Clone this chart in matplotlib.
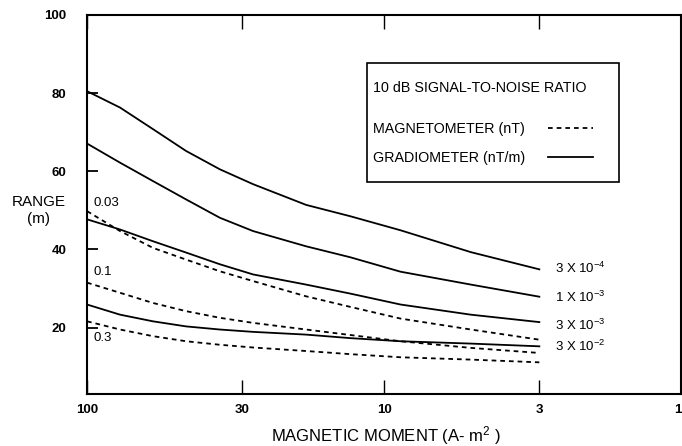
import matplotlib
matplotlib.use("Agg")
import matplotlib.pyplot as plt
from matplotlib.patches import Rectangle
from matplotlib.ticker import FixedLocator, NullLocator

plt.rcParams["font.family"] = ["Liberation Sans", "DejaVu Sans"]
plt.rcParams["mathtext.fontset"] = "custom"
plt.rcParams["mathtext.rm"] = "Liberation Sans"
plt.rcParams["mathtext.it"] = "Liberation Sans"

# magnetic moment (A-m^2)
moment = [100, 77.4, 60, 46.4, 35.7, 27.6, 18.3, 13, 8.8, 5.1, 3]

# gradiometer (nT/m), solid
grad_labels = [r"3 X 10$^{-4}$", r"1 X 10$^{-3}$", r"3 X 10$^{-3}$", r"3 X 10$^{-2}$"]
grad_label_y = [35.1, 27.7, 20.5, 15.1]
grad_3e4 = [80.5, 76.3, 70.8, 65.2, 60.5, 56.7, 51.4, 48.5, 44.9, 39.3, 34.9]
grad_1e3 = [67.1, 62.2, 57.5, 52.8, 48.1, 44.7, 40.8, 38.0, 34.3, 31.0, 27.9]
grad_3e3 = [47.7, 45.1, 42.1, 39.2, 36.2, 33.6, 31.0, 28.7, 25.9, 23.3, 21.4]
grad_3e2 = [25.9, 23.3, 21.6, 20.3, 19.5, 18.9, 18.2, 17.3, 16.5, 15.9, 15.2]

# magnetometer (nT), dashed
mag_labels = ["0.03", "0.1", "0.3"]
mag_label_y = [51.8, 34.1, 17.4]
mag_003 = [49.8, 44.7, 40.4, 37.4, 34.4, 31.9, 28.0, 25.3, 22.3, 19.5, 16.9]
mag_01 = [31.5, 28.9, 26.3, 24.2, 22.5, 21.2, 19.5, 18.1, 16.5, 14.8, 13.5]
mag_03 = [21.6, 19.5, 17.8, 16.5, 15.6, 14.9, 14.0, 13.2, 12.4, 11.8, 11.1]

xticks = [100, 30, 10, 3, 1]
yticks = [20, 40, 60, 80, 100]

fig = plt.figure(figsize=(6.82, 4.46), dpi=100)
ax = fig.add_axes([0.1276, 0.1166, 0.871, 0.8498])

dash = (0, (2.6, 2.2))
for g in [grad_3e4, grad_1e3, grad_3e3, grad_3e2]:
    lg, = ax.plot(moment, g, color="black", lw=1.3)
for m in [mag_003, mag_01, mag_03]:
    lm, = ax.plot(moment, m, color="black", lw=1.3, linestyle=dash)

ax.set_xscale("log")
ax.set_xlim(100, 1)
ax.set_ylim(3, 100)

ax.xaxis.set_major_locator(FixedLocator(xticks))
ax.xaxis.set_minor_locator(NullLocator())
ax.set_xticklabels([str(t) for t in xticks], fontweight="bold", fontsize=9.5)
ax.get_xticklabels()[-1].set_ha("right")
ax.set_yticks(yticks)
ax.set_yticklabels([str(t) for t in yticks], fontweight="bold", fontsize=9.5)
ax.tick_params(axis="x", direction="in", top=True, length=10, width=1, pad=7)
ax.tick_params(axis="y", direction="in", length=8, width=1.3, pad=15)
for s in ax.spines.values():
    s.set_linewidth(1.5)

for lab, y in zip(grad_labels, grad_label_y):
    ax.text(2.66, y, lab, fontsize=9.5, va="center", ha="left")
for lab, y in zip(mag_labels, mag_label_y):
    ax.text(95, y, lab, fontsize=9.5, va="center", ha="left")

ax.set_ylabel("RANGE\n(m)", rotation=0, fontsize=11, ha="center", va="center", multialignment="center")
ax.yaxis.set_label_coords(-0.0816, 0.484)
ax.set_xlabel(r"MAGNETIC MOMENT (A- m$^{2}$ )", fontsize=12)
ax.xaxis.set_label_coords(0.503, -0.08)

# legend box
ax.add_patch(Rectangle((0.471, 0.559), 0.425, 0.314, transform=ax.transAxes,
                       facecolor="white", edgecolor="black", lw=1.2, zorder=4))
leg = ax.legend([lm, lg], ["MAGNETOMETER (nT)", "GRADIOMETER (nT/m)"],
                title="10 dB SIGNAL-TO-NOISE RATIO\n", title_fontsize=10.3, fontsize=10.3,
                loc="upper left", bbox_to_anchor=(0.4815, 0.826), borderaxespad=0,
                borderpad=0, markerfirst=False, frameon=False, handlelength=3.1,
                handletextpad=1.6, labelspacing=1.05, alignment="left")
leg.get_title().set_linespacing(0.85)
leg.set_zorder(5)

fig.savefig("out.png", dpi=100)
